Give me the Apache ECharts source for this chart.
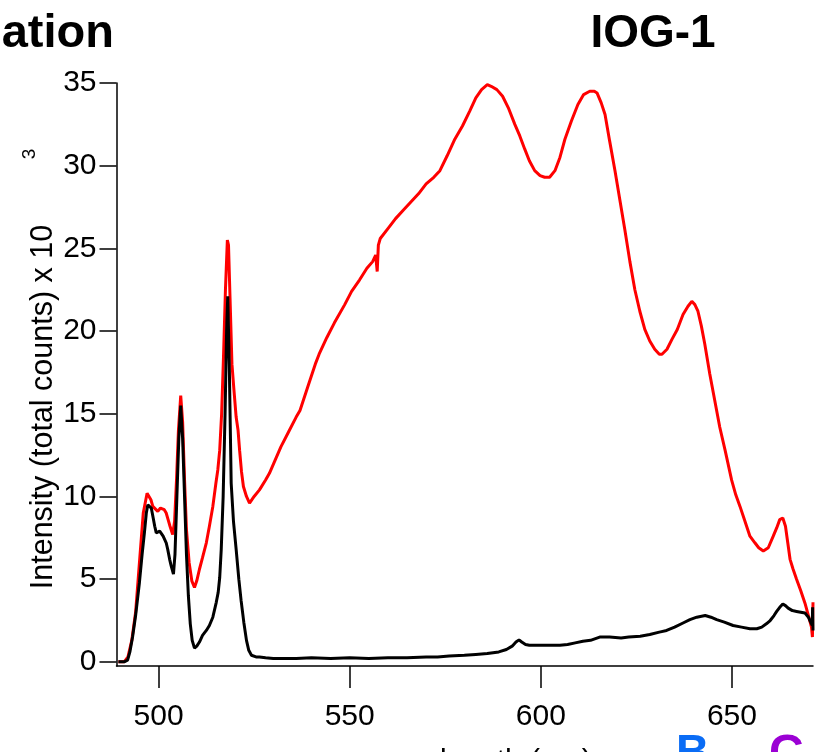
<!DOCTYPE html>
<html>
<head>
<meta charset="utf-8">
<script src="https://cdn.jsdelivr.net/npm/echarts@6/dist/echarts.min.js"></script>
<style>
  html, body { margin: 0; padding: 0; background: #fff; }
  #chart { width: 825px; height: 752px; }
</style>
</head>
<body>
<div id="chart"></div>
<script>
// Emission spectra (intensity in thousands of counts vs wavelength in nm)
const redNm = [489.5,490,491,492,493,494,495,496,497,497.5,498,498.5,499,499.8,500.5,501,501.5,502,502.5,503,503.7,504.2,504.7,505.2,505.8,506.3,506.8,507.3,508,508.7,509.4,510,510.7,511.5,512.5,513.3,514.2,515,515.5,516,516.5,517,517.5,518,518.3,518.7,519.2,519.7,520.3,520.8,521.2,521.7,522.2,523,523.8,525,526.4,528,529,530.5,532,534,536,537,539,541,542,544,546,548.7,550.5,552.6,554.5,556,556.8,557.2,557.5,558,560,562,564,566,568,570,572,573.6,575.5,577.5,579.5,581.4,583,584.5,586,587,588.5,590,591.5,593.2,594.5,595.8,597,598.4,599.8,601,602.3,603.7,605,606.3,608,609.7,611.2,612.8,614,614.7,615.8,616.8,618,619.4,620.7,622,623.3,624.6,625.9,627.2,628.5,629.8,631,631.7,633,634.3,635.7,637.2,638.5,639.5,640.3,641.1,642,642.9,644.2,645.5,646.8,648.2,649.9,651,652.1,653.4,654.7,656,657,658.2,659.5,660.8,661.7,662.5,663.3,664,664.6,665.2,666,666.9,668,669.1,670,670.8,671.05,671.2];
const redVal = [0,-0.05,0,0.3,1.3,3.0,6.0,9.0,10.2,10.3,9.8,9.4,9.3,9.1,9.3,9.4,9.2,9.0,8.6,8.2,7.7,8.5,11,14,16.1,14.5,11,8,6,4.9,4.5,4.9,5.6,6.3,7.2,8.2,9.4,10.8,11.6,12.8,15,18.5,22.5,25.5,25.2,22,18,16.5,14.8,14,12.8,11.5,10.6,10,9.6,10,10.4,11,11.4,12.2,13,13.9,14.8,15.2,16.6,18,18.6,19.6,20.5,21.6,22.4,23.1,23.8,24.2,24.6,23.6,25.2,25.6,26.2,26.8,27.3,27.8,28.3,28.9,29.3,29.7,30.6,31.6,32.4,33.3,34.1,34.6,34.9,34.8,34.6,34.2,33.5,32.5,31.8,31,30.3,29.7,29.4,29.3,29.3,29.7,30.5,31.6,32.7,33.7,34.3,34.5,34.5,34.4,33.8,33.1,31.5,29.7,27.9,26.1,24.2,22.5,21.2,20.1,19.4,18.9,18.6,18.6,18.9,19.5,20.1,21,21.5,21.8,21.6,21.2,20.3,19.2,17.4,15.8,14.2,12.8,11.0,10.1,9.4,8.5,7.6,7.2,6.9,6.7,6.9,7.6,8.1,8.6,8.7,8.2,7.2,6.2,5.6,5.0,4.3,3.55,2.8,2.1,1.5,3.6];

const blackNm = [489.5,490,491,491.9,492.5,493.2,494,495,495.7,496.3,496.8,497.2,497.7,498.1,498.6,499,499.4,499.8,500.3,500.7,501.2,501.6,502,502.4,502.9,503.3,503.9,504.3,504.8,505.3,505.8,506.3,506.8,507.3,507.8,508.3,508.8,509.4,510,510.7,511.5,512.5,513.3,514.2,515.1,515.6,516,516.4,516.9,517.4,517.8,518.1,518.5,519,519.6,520.3,521,521.6,522.3,523,523.6,524.3,525.5,526.4,528,530,533,536,540,545,550,555,560,565,570,573,576,580,583,586,589,591,592.5,593.5,594.3,595,596,597,599,601,603,605,607,609,611,613,615.4,618,621,623,626,628.5,631,632.9,635,637.2,639,640.8,643,644.5,646,648,650.3,652.5,654.7,656.5,657.8,659,660,661,661.7,662.5,663.3,664,664.7,665.8,666.9,668,669.1,670,670.4,671,671.1,671.2];
const blackVal = [0,-0.1,0,0.1,0.6,1.5,2.8,4.8,6.5,7.8,9.0,9.5,9.5,9.3,8.7,8.2,7.8,7.7,7.9,7.8,7.6,7.5,7.2,6.8,6.2,5.8,5.3,6.5,10,13.5,15.5,13.5,10,6.5,4,2.3,1.3,0.83,0.95,1.2,1.6,1.9,2.2,2.7,3.6,4.2,5.1,6.8,10,15,20,22.1,18,10.8,8.5,6.8,5.0,3.7,2.4,1.3,0.7,0.4,0.3,0.3,0.25,0.2,0.2,0.2,0.25,0.2,0.25,0.2,0.25,0.25,0.3,0.3,0.35,0.4,0.45,0.5,0.6,0.75,0.95,1.2,1.33,1.2,1.05,1.0,1.0,1.0,1.0,1.0,1.05,1.15,1.25,1.3,1.5,1.5,1.45,1.5,1.55,1.65,1.8,1.9,2.1,2.35,2.55,2.7,2.8,2.7,2.55,2.4,2.2,2.1,2.0,2.0,2.1,2.3,2.5,2.8,3.05,3.3,3.5,3.4,3.25,3.1,3.05,3.0,2.95,2.7,2.5,2.2,3.3,1.9];

const xTicks = [500, 550, 600, 650];
const yTicks = [0, 5, 10, 15, 20, 25, 30, 35];

const FONT = '"Liberation Sans", Arial, Helvetica, sans-serif';

function pairs(xs, ys) { return xs.map((x, i) => [x, ys[i]]); }

const chart = echarts.init(document.getElementById('chart'), null, { renderer: 'canvas' });
chart.setOption({
  animation: false,
  backgroundColor: '#ffffff',
  grid: { left: 116.5, right: 12, top: 83, bottom: 86, containLabel: false },
  xAxis: {
    type: 'value', min: 489, max: 671.2,
    axisLine: { show: true, onZero: false, lineStyle: { color: '#000', width: 1.5 } },
    axisTick: { show: true, customValues: xTicks, length: 22, inside: false, lineStyle: { color: '#000', width: 1.5 } },
    axisLabel: { show: true, customValues: xTicks, margin: 36, color: '#000', fontSize: 30, fontFamily: FONT },
    splitLine: { show: false }
  },
  yAxis: {
    type: 'value', min: -0.25, max: 35,
    axisLine: { show: true, onZero: false, lineStyle: { color: '#000', width: 1.5 } },
    axisTick: { show: true, customValues: yTicks, length: 17, inside: false, lineStyle: { color: '#000', width: 1.5 } },
    axisLabel: { show: true, customValues: yTicks, margin: 20, color: '#000', fontSize: 30, fontFamily: FONT },
    splitLine: { show: false }
  },
  series: [
    { type: 'line', data: pairs(redNm, redVal), showSymbol: false, lineStyle: { color: '#ff0000', width: 3 }, itemStyle: { color: '#ff0000' }, z: 2 },
    { type: 'line', data: pairs(blackNm, blackVal), showSymbol: false, lineStyle: { color: '#000000', width: 3 }, itemStyle: { color: '#000000' }, z: 3 }
  ],
  graphic: [
    { type: 'text', x: 114, y: 34, style: { text: 'ation', font: 'bold 47px ' + FONT, fill: '#000', textAlign: 'right', textVerticalAlign: 'middle' } },
    { type: 'text', x: 653, y: 34, style: { text: 'IOG-1', font: 'bold 46px ' + FONT, fill: '#000', textAlign: 'center', textVerticalAlign: 'middle' } },
    { type: 'text', x: 44, y: 407, rotation: Math.PI / 2, style: { text: 'Intensity (total counts) x 10', font: '30.5px ' + FONT, fill: '#000', textAlign: 'center', textVerticalAlign: 'middle' } },
    { type: 'text', x: 30, y: 154, rotation: Math.PI / 2, style: { text: '3', font: '19px ' + FONT, fill: '#000', textAlign: 'center', textVerticalAlign: 'middle' } },
    { type: 'text', x: 370, y: 762, style: { text: 'wavelength (nm)', font: '30px ' + FONT, fill: '#000', textAlign: 'left', textVerticalAlign: 'middle' } },
    { type: 'text', x: 676, y: 731, style: { text: 'B', font: 'bold 46px ' + FONT, fill: '#0a6cf5', textAlign: 'left', textVerticalAlign: 'top' } },
    { type: 'text', x: 769, y: 731, style: { text: 'C', font: 'bold 48px ' + FONT, fill: '#9b00d4', textAlign: 'left', textVerticalAlign: 'top' } }
  ]
});
</script>
</body>
</html>
